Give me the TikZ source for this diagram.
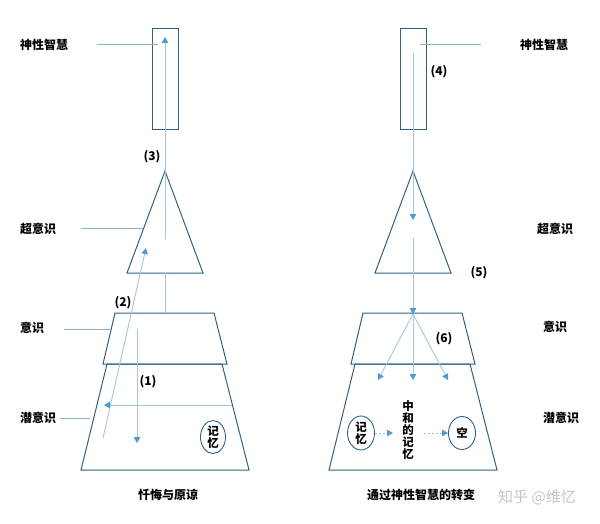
\documentclass[tikz,border=0pt]{standalone}
\usepackage{fontspec}
\setmainfont{Noto Sans CJK SC}
\usetikzlibrary{arrows.meta,shapes.geometric}
\definecolor{lyrBlue}{HTML}{2F6186}
\definecolor{flowBlue}{HTML}{4C9BD3}
\definecolor{flowLine}{HTML}{A3C6DE}
\definecolor{tagLine}{HTML}{8FB2CB}
\definecolor{markGray}{HTML}{C4C4C4}

\begin{document}
\begin{tikzpicture}[x=1pt,y=-1pt,font=\fontsize{12}{13}\selectfont\bfseries,
    every node/.style={inner sep=0pt},
    layer/.style={draw=lyrBlue,line width=1pt},
    flow/.style={draw=flowLine,line width=0.9pt,-{Triangle[length=6pt,width=6.5pt,color=flowBlue]}},
    hint/.style={flow,dashed,dash pattern=on 2pt off 2pt},
    link/.style={draw=flowLine,line width=0.9pt},
    tag/.style={draw=tagLine,line width=0.7pt},
    mem/.style={draw=lyrBlue,ellipse,line width=0.9pt,align=center,font=\fontsize{11.5}{12.5}\selectfont\bfseries}]
  \useasboundingbox (0,0) rectangle (600,524);
  % two stacks of layers
  \foreach \s/\n in {0/L,248/R}{
    \node[layer,minimum width=26pt,minimum height=101pt] (wis\n) at (165+\s,79.5) {};
    \draw[layer] (165+\s,171) -- (127+\s,273) -- (203+\s,273) -- cycle;
    \draw[layer] (115+\s,313) -- (214+\s,313) -- (227+\s,364) -- (103+\s,364) -- cycle;
    \draw[layer] (107+\s,364) -- (222+\s,364) -- (249+\s,470) -- (81+\s,470) -- cycle;
  }
  % labels
  \node[anchor=west] (supL) at (20,45) {神性智慧};
  \node[anchor=west] (ovrL) at (20,229) {超意识};
  \node[anchor=west] (conL) at (20,328) {意识};
  \node[anchor=west] (subL) at (20,418) {潜意识};
  \node[anchor=west] (supR) at (520,45) {神性智慧};
  \node[anchor=west] (ovrR) at (537,229) {超意识};
  \node[anchor=west] (conR) at (543,327) {意识};
  \node[anchor=west] (subR) at (543,418) {潜意识};
  \coordinate (tsL) at (158,44);
  \coordinate (toL) at (143,228);
  \coordinate (tcL) at (110,329);
  \coordinate (tbL) at (90,418);
  \coordinate (tsR) at (420,44);
  \draw[tag] (97,44) -- (tsL);
  \draw[tag] (81,228) -- (toL);
  \draw[tag] (64,329) -- (tcL);
  \draw[tag] (60,418) -- (tbL);
  \draw[tag] (481,44) -- (tsR);
  % left: repentance
  \coordinate (a3) at (165,239);
  \coordinate (b3) at (165,37);
  \coordinate (a2) at (103,438);
  \coordinate (b2) at (146,248);
  \coordinate (a1) at (137,329);
  \coordinate (b1) at (137,443);
  \coordinate (ah) at (232,405);
  \coordinate (bh) at (104,405);
  \draw[flow] (a3) -- (b3);
  \draw[link] (165,273) -- (165,313);
  \draw[flow] (a2) -- (b2);
  \draw[flow] (a1) -- (b1);
  \draw[flow] (ah) -- (bh);
  \node (n3) at (152,157) {(3)};
  \node (n2) at (123,303) {(2)};
  \node (n1) at (148,382) {(1)};
  \node[mem,minimum width=25pt,minimum height=31pt] (memL) at (213,437) {记\\忆};
  % right: transformation
  \coordinate (a4) at (413,53);
  \coordinate (b4) at (413,220);
  \coordinate (a5) at (413,238);
  \coordinate (b5) at (413,314);
  \draw[flow] (a4) -- (b4);
  \draw[flow] (a5) -- (b5);
  \foreach \x in {378,413,448}
    \draw[flow] (b5) -- (\x,380);
  \node (n4) at (439,72) {(4)};
  \node (n5) at (479,273) {(5)};
  \node (n6) at (444,339) {(6)};
  \node[mem,minimum width=27pt,minimum height=34pt] (memR) at (361,433) {记\\忆};
  \node[align=center,font=\fontsize{11.5}{12}\selectfont\bfseries] (mix) at (408,430) {中\\和\\的\\记\\忆};
  \node[mem,minimum width=27pt,minimum height=33pt] (void) at (462,433) {空};
  \draw[hint] (memR) -- (393,433);
  \draw[hint] (424,433) -- (void);
  % captions
  \node (capL) at (168,495) {忏悔与原谅};
  \node (capR) at (421,495) {通过神性智慧的转变};
  \node[text=markGray,font=\fontsize{15}{17}\selectfont] (mark) at (537,497) {知乎 @维忆};
\end{tikzpicture}
\end{document}
